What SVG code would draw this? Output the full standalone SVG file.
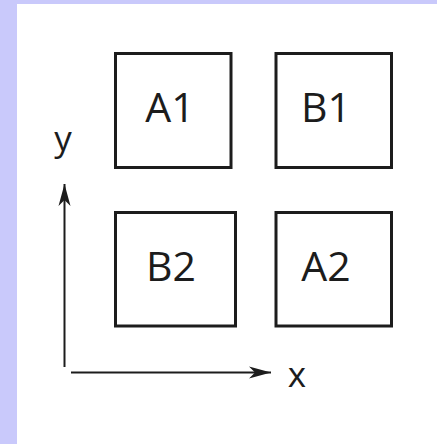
<svg xmlns="http://www.w3.org/2000/svg" width="437" height="444" viewBox="0 0 437 444">
  <style>
    .cell rect { fill: none; stroke: #1c1c1c; stroke-width: 3; }
    .lbl { font-family: "Open Sans", "Noto Sans", "DejaVu Sans", sans-serif; font-size: 41px; fill: #1c1c1c; text-anchor: middle; }
    .axis { stroke: #1c1c1c; stroke-width: 2; fill: none; }
    .axlbl { font-family: "Open Sans", "Noto Sans", "DejaVu Sans", sans-serif; font-size: 35px; fill: #1c1c1c; text-anchor: middle; }
  </style>
  <defs>
    <marker id="head" viewBox="-23 -7 24 14" refX="0" refY="0" markerWidth="24" markerHeight="14" markerUnits="userSpaceOnUse" orient="auto">
      <path d="M0,0 L-22,-6 L-16,0 L-22,6 Z" fill="#1c1c1c"/>
    </marker>
  </defs>

  <!-- page background with lavender margin -->
  <rect x="0" y="0" width="437" height="444" fill="#c9c9fb"/>
  <rect x="17" y="4" width="420" height="440" fill="#ffffff"/>

  <g id="A1" class="cell">
    <rect x="115.5" y="53.5" width="115.5" height="114"/>
    <text class="lbl" x="170" y="122">A1</text>
  </g>
  <g id="B1" class="cell">
    <rect x="276" y="53.5" width="115.5" height="114"/>
    <text class="lbl" x="326" y="122">B1</text>
  </g>
  <g id="B2" class="cell">
    <rect x="115.5" y="212.5" width="120" height="113.5"/>
    <text class="lbl" x="171" y="281">B2</text>
  </g>
  <g id="A2" class="cell">
    <rect x="276" y="212.5" width="115.5" height="113.5"/>
    <text class="lbl" x="326" y="281">A2</text>
  </g>

  <g id="connectors">
    <line class="axis" x1="64.5" y1="367" x2="64.5" y2="184" marker-end="url(#head)"/>
    <line class="axis" x1="71" y1="372.5" x2="271" y2="372.5" marker-end="url(#head)"/>
  </g>

  <g id="axis-labels">
    <text class="axlbl" x="63" y="151">y</text>
    <text class="axlbl" x="297" y="387">x</text>
  </g>
</svg>
